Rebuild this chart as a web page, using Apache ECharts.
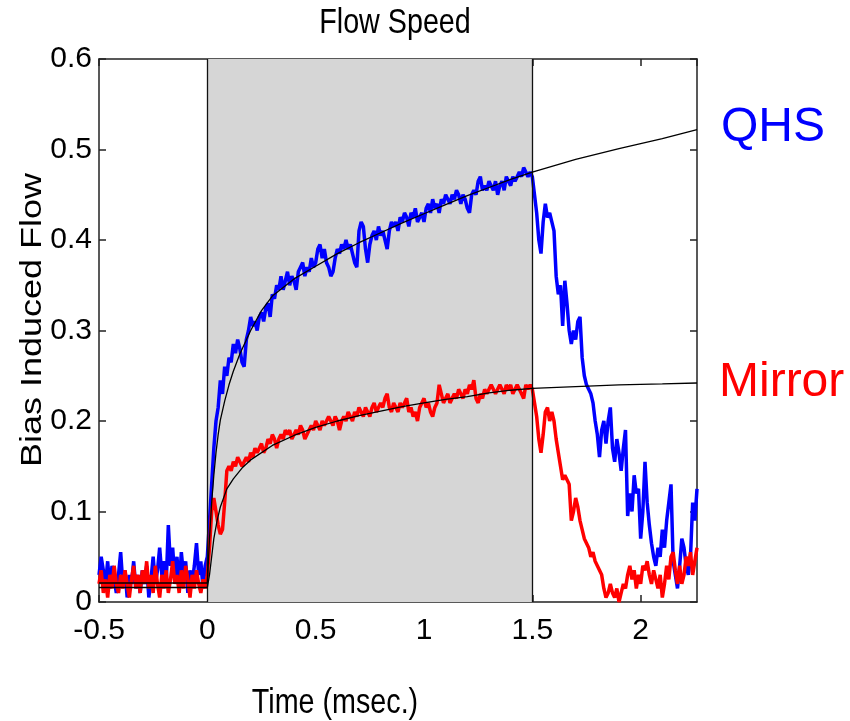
<!DOCTYPE html>
<html>
<head>
<meta charset="utf-8">
<script src="https://cdn.jsdelivr.net/npm/echarts@6/dist/echarts.min.js"></script>
<style>
  html, body { margin: 0; padding: 0; background: #fff; }
  #chart { width: 850px; height: 721px; }
</style>
</head>
<body>
<div id="chart"></div>
<script>
// ---- Sampling grid of the measured traces (msec) ----
const tStart = -0.5;
const tStep = 0.01;

// ---- QHS (blue) measured trace ----
const qhsPre = [
  0.03,0.05,0.035,0.02,0.045,0.015,0.04,0.025,0.01,0.03,
  0.055,0.02,0.035,0.005,0.03,0.02,0.045,0.015,0.03,0.01,
  0.035,0.02,0.04,0.005,0.025,0.05,0.02,0.035,0.06,0.03,
  0.045,0.02,0.085,0.04,0.06,0.025,0.05,0.015,0.055,0.03,
  0.045,0.01,0.035,0.02,0.04,0.065,0.03,0.045,0.015,0.04
];
const qhsPulse = [
  0.05,0.09,0.13,0.17,0.2,0.215,0.245,0.23,0.26,0.25,
  0.27,0.265,0.285,0.275,0.29,0.28,0.265,0.26,0.29,0.3,
  0.315,0.305,0.31,0.3,0.315,0.32,0.31,0.325,0.33,0.315,
  0.34,0.335,0.35,0.345,0.36,0.345,0.355,0.365,0.35,0.36,
  0.355,0.345,0.365,0.37,0.375,0.36,0.37,0.365,0.38,0.37,
  0.375,0.39,0.395,0.38,0.39,0.375,0.37,0.36,0.365,0.38,
  0.39,0.385,0.395,0.39,0.4,0.39,0.395,0.385,0.375,0.37,
  0.41,0.42,0.415,0.39,0.375,0.395,0.405,0.41,0.4,0.415,
  0.405,0.41,0.4,0.39,0.41,0.42,0.415,0.42,0.41,0.425,
  0.42,0.43,0.425,0.415,0.43,0.425,0.435,0.42,0.425,0.43,
  0.42,0.435,0.44,0.43,0.445,0.435,0.44,0.43,0.445,0.44,
  0.45,0.445,0.44,0.45,0.445,0.455,0.45,0.44,0.45,0.445,
  0.435,0.43,0.45,0.455,0.45,0.465,0.47,0.455,0.46,0.455,
  0.465,0.46,0.455,0.465,0.45,0.46,0.465,0.455,0.47,0.465,
  0.46,0.47,0.465,0.47,0.475,0.47,0.48,0.475,0.47,0.475,
  0.47
];
const qhsPost = [
  0.45,0.43,0.4,0.385,0.42,0.44,0.425,0.43,0.42,0.41,
  0.36,0.34,0.35,0.305,0.355,0.33,0.3,0.285,0.3,0.29,
  0.31,0.315,0.27,0.25,0.24,0.235,0.23,0.22,0.2,0.185,
  0.16,0.19,0.2,0.175,0.2,0.215,0.17,0.155,0.18,0.165,
  0.145,0.17,0.19,0.095,0.12,0.1,0.14,0.12,0.125,0.07,
  0.1,0.155,0.11,0.085,0.065,0.05,0.04,0.06,0.05,0.08,
  0.06,0.09,0.11,0.13,0.045,0.03,0.015,0.04,0.07,0.06,
  0.04,0.03,0.05,0.11,0.09,0.125
];

// ---- Mirror (red) measured trace ----
const mirrorPre = [
  0.02,0.035,0.01,0.025,0.005,0.03,0.015,0.04,0.02,0.01,
  0.03,0.015,0.035,0.02,0.005,0.025,0.04,0.015,0.03,0.01,
  0.035,0.02,0.045,0.015,0.03,0.01,0.04,0.02,0.005,0.03,
  0.015,0.035,0.01,0.025,0.045,0.02,0.03,0.01,0.035,0.015,
  0.04,0.025,0.005,0.03,0.015,0.035,0.02,0.01,0.025,0.015
];
const mirrorPulse = [
  0.03,0.06,0.1,0.115,0.1,0.085,0.075,0.08,0.11,0.145,
  0.15,0.145,0.155,0.15,0.16,0.155,0.15,0.155,0.16,0.155,
  0.165,0.16,0.17,0.165,0.17,0.175,0.165,0.17,0.18,0.175,
  0.185,0.18,0.17,0.18,0.185,0.18,0.19,0.185,0.19,0.18,
  0.185,0.19,0.185,0.195,0.19,0.18,0.185,0.19,0.195,0.19,
  0.2,0.195,0.19,0.2,0.195,0.2,0.205,0.2,0.195,0.205,
  0.2,0.19,0.2,0.205,0.2,0.21,0.205,0.2,0.21,0.205,
  0.215,0.21,0.205,0.215,0.21,0.205,0.215,0.22,0.21,0.215,
  0.22,0.215,0.225,0.23,0.215,0.21,0.22,0.215,0.21,0.22,
  0.215,0.22,0.225,0.21,0.215,0.205,0.21,0.2,0.215,0.22,
  0.225,0.215,0.22,0.21,0.205,0.215,0.22,0.24,0.23,0.22,
  0.225,0.23,0.22,0.225,0.23,0.225,0.235,0.23,0.225,0.235,
  0.23,0.24,0.235,0.245,0.225,0.22,0.23,0.225,0.235,0.23,
  0.235,0.24,0.235,0.23,0.235,0.24,0.235,0.23,0.24,0.235,
  0.24,0.23,0.235,0.24,0.235,0.23,0.225,0.24,0.235,0.24,
  0.235
];
const mirrorPost = [
  0.22,0.205,0.18,0.165,0.185,0.21,0.215,0.2,0.21,0.2,
  0.18,0.165,0.15,0.135,0.14,0.135,0.13,0.09,0.1,0.115,
  0.105,0.09,0.08,0.07,0.065,0.06,0.05,0.055,0.045,0.04,
  0.035,0.03,0.015,0.005,0.01,0.02,0.01,0.005,0.015,0.0,
  0.01,0.02,0.015,0.03,0.04,0.025,0.035,0.015,0.03,0.02,
  0.04,0.035,0.045,0.03,0.02,0.035,0.025,0.015,0.03,0.005,
  0.02,0.04,0.025,0.05,0.055,0.035,0.02,0.04,0.02,0.03,
  0.05,0.04,0.055,0.03,0.045,0.06
];

// ---- Fitted curves (black) ----
const qhsFitT = [-0.5,0,0.01,0.02,0.03,0.04,0.05,0.06,0.08,0.1,0.12,0.15,0.2,0.25,0.3,0.4,0.5,0.6,0.7,0.8,0.9,1.0,1.1,1.2,1.3,1.4,1.5,1.7,1.9,2.1,2.26];
const qhsFitV = [0.021,0.021,0.07,0.11,0.14,0.165,0.185,0.201,0.222,0.24,0.255,0.274,0.3,0.322,0.338,0.357,0.371,0.385,0.397,0.408,0.419,0.429,0.439,0.449,0.458,0.467,0.475,0.489,0.501,0.512,0.522];
const mirrorFitT = [-0.5,0,0.01,0.02,0.03,0.045,0.06,0.09,0.12,0.16,0.2,0.3,0.4,0.5,0.6,0.7,0.8,0.9,1.0,1.1,1.2,1.3,1.4,1.5,1.7,1.9,2.1,2.26];
const mirrorFitV = [0.016,0.016,0.03,0.05,0.07,0.09,0.105,0.125,0.136,0.148,0.157,0.173,0.184,0.193,0.2,0.206,0.211,0.216,0.22,0.224,0.227,0.231,0.234,0.236,0.238,0.24,0.241,0.242];

// ---- Pulse window and axes ----
const pulseStart = 0;
const pulseEnd = 1.5;
const xMin = -0.5, xMax = 2.26, xInterval = 0.5;
const yMin = 0, yMax = 0.6, yInterval = 0.1;

const titleText = 'Flow Speed';
const xName = 'Time (msec.)';
const yName = 'Bias Induced Flow';
const qhsLabel = 'QHS';
const mirrorLabel = 'Mirror';

function pairs(values) {
  return values.map((v, i) => [Math.round((tStart + i * tStep) * 1000) / 1000, v]);
}
function zipPairs(ts, vs) { return ts.map((t, i) => [t, vs[i]]); }

const qhsData = pairs(qhsPre.concat(qhsPulse, qhsPost));
const mirrorData = pairs(mirrorPre.concat(mirrorPulse, mirrorPost));

const regular = '"Liberation Sans", Arial, sans-serif';
const frameColor = '#222';

const chart = echarts.init(document.getElementById('chart'), null, { renderer: 'canvas' });
chart.setOption({
  animation: false,
  backgroundColor: '#fff',
  grid: { left: 99, right: 153, top: 59, bottom: 119, containLabel: false },
  xAxis: [
    {
      type: 'value', min: xMin, max: xMax, interval: xInterval, position: 'bottom',
      axisLine: { show: true, onZero: false, lineStyle: { color: frameColor, width: 1.5 } },
      axisTick: { show: true, inside: true, length: 7, lineStyle: { color: frameColor, width: 1.5 } },
      axisLabel: {
        show: true, margin: 14, color: '#000', fontSize: 30, fontFamily: regular,
        showMaxLabel: false,
        formatter: v => (Math.abs(v / xInterval - Math.round(v / xInterval)) < 1e-6 ? String(v) : '')
      },
      splitLine: { show: false }
    },
    {
      type: 'value', min: xMin, max: xMax, interval: xInterval, position: 'top',
      axisLine: { show: true, onZero: false, lineStyle: { color: frameColor, width: 1.5 } },
      axisTick: { show: true, inside: true, length: 7, lineStyle: { color: frameColor, width: 1.5 } },
      axisLabel: { show: false },
      splitLine: { show: false }
    }
  ],
  yAxis: [
    {
      type: 'value', min: yMin, max: yMax, interval: yInterval, position: 'left',
      axisLine: { show: true, onZero: false, lineStyle: { color: frameColor, width: 1.5 } },
      axisTick: { show: true, inside: true, length: 7, lineStyle: { color: frameColor, width: 1.5 } },
      axisLabel: { show: true, margin: 7, color: '#000', fontSize: 30, fontFamily: regular },
      splitLine: { show: false }
    },
    {
      type: 'value', min: yMin, max: yMax, interval: yInterval, position: 'right',
      axisLine: { show: true, onZero: false, lineStyle: { color: frameColor, width: 1.5 } },
      axisTick: { show: true, inside: true, length: 7, lineStyle: { color: frameColor, width: 1.5 } },
      axisLabel: { show: false },
      splitLine: { show: false }
    }
  ],
  series: [
    {
      name: 'pulse', type: 'line', data: [], z: 1, silent: true,
      markArea: {
        silent: true,
        itemStyle: { color: '#d6d6d6' },
        data: [[{ xAxis: pulseStart }, { xAxis: pulseEnd }]]
      },
      markLine: {
        silent: true, symbol: 'none', label: { show: false },
        lineStyle: { color: '#111', width: 1.3, type: 'solid' },
        data: [{ xAxis: pulseStart }, { xAxis: pulseEnd }]
      }
    },
    {
      name: 'QHS', type: 'line', data: qhsData, z: 3, showSymbol: false,
      lineStyle: { color: '#0000ff', width: 3.5 }, itemStyle: { color: '#0000ff' }
    },
    {
      name: 'Mirror', type: 'line', data: mirrorData, z: 4, showSymbol: false,
      lineStyle: { color: '#ff0000', width: 3.5 }, itemStyle: { color: '#ff0000' }
    },
    {
      name: 'QHS fit', type: 'line', data: zipPairs(qhsFitT, qhsFitV), z: 5, showSymbol: false,
      lineStyle: { color: '#000', width: 1.3 }
    },
    {
      name: 'Mirror fit', type: 'line', data: zipPairs(mirrorFitT, mirrorFitV), z: 5, showSymbol: false,
      lineStyle: { color: '#000', width: 1.3 }
    }
  ],
  graphic: [
    { type: 'text', x: 395, y: 23, scaleX: 0.82, style: { text: titleText, textAlign: 'center', textVerticalAlign: 'middle', font: '35px ' + regular, fill: '#000' } },
    { type: 'text', x: 335, y: 703, scaleX: 0.82, style: { text: xName, textAlign: 'center', textVerticalAlign: 'middle', font: '35px ' + regular, fill: '#000' } },
    { type: 'text', x: 33, y: 320, rotation: Math.PI / 2, scaleY: 0.82, style: { text: yName, textAlign: 'center', textVerticalAlign: 'middle', font: '36px ' + regular, fill: '#000' } },
    { type: 'text', x: 721, y: 128, style: { text: qhsLabel, textAlign: 'left', textVerticalAlign: 'middle', font: '48px ' + regular, fill: '#0000ff' } },
    { type: 'text', x: 719, y: 383, style: { text: mirrorLabel, textAlign: 'left', textVerticalAlign: 'middle', font: '48px ' + regular, fill: '#ff0000' } }
  ]
});
</script>
</body>
</html>
